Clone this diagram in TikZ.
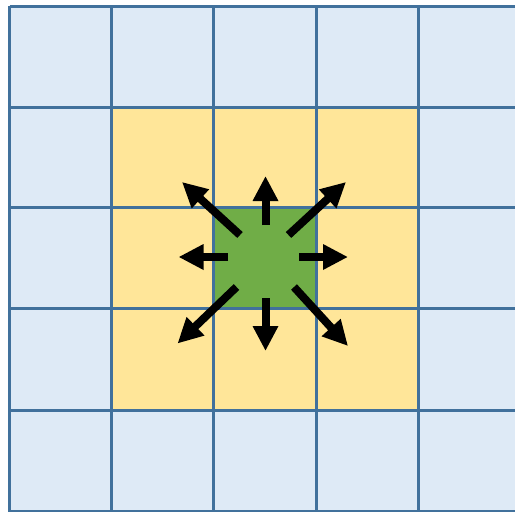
\documentclass[tikz,border=0pt]{standalone}
\usetikzlibrary{arrows.meta}
\definecolor{gridline}{HTML}{41719C}
\definecolor{cellblue}{HTML}{DEEAF6}
\definecolor{cellyellow}{HTML}{FFE699}
\definecolor{cellgreen}{HTML}{70AD47}
\tikzset{
  gridstroke/.style={draw=gridline, line width=3pt},
  bigarrow/.style={line width=8pt, -{Triangle[length=25pt,width=24pt]}, black},
}
\begin{document}
\begin{tikzpicture}[x=1pt,y=-1pt]
\useasboundingbox (0,0) rectangle (515,512);
% fills
\fill[cellblue] (9.5,6) rectangle (520,511.5);
\fill[cellyellow] (111.5,107) rectangle (418,410);
\fill[cellgreen] (213.5,207.5) rectangle (316,308.5);
% grid lines
\foreach \x in {9.5,111.5,213.5,316,418,520}
  \draw[gridstroke] (\x,6) -- (\x,511.5);
\foreach \y in {6,107,207.5,308.5,410,511.5}
  \draw[gridstroke] (9.5,\y) -- (520,\y);
% arrow end points
\coordinate (nT) at (265.5,225);   \coordinate (nH) at (265.5,176);
\coordinate (sT) at (265.5,298);   \coordinate (sH) at (265.5,351);
\coordinate (wT) at (228,257);     \coordinate (wH) at (178.5,257);
\coordinate (eT) at (299,257);     \coordinate (eH) at (348,257);
\coordinate (nwT) at (240,235);    \coordinate (nwH) at (182,182);
\coordinate (neT) at (288.5,235);  \coordinate (neH) at (346,182);
\coordinate (swT) at (236.5,287);  \coordinate (swH) at (177.5,343.5);
\coordinate (seT) at (294,287);    \coordinate (seH) at (348,346);
\foreach \d in {n,s,w,e,nw,ne,sw,se}
  \draw[bigarrow] (\d T) -- (\d H);
\end{tikzpicture}
\end{document}
